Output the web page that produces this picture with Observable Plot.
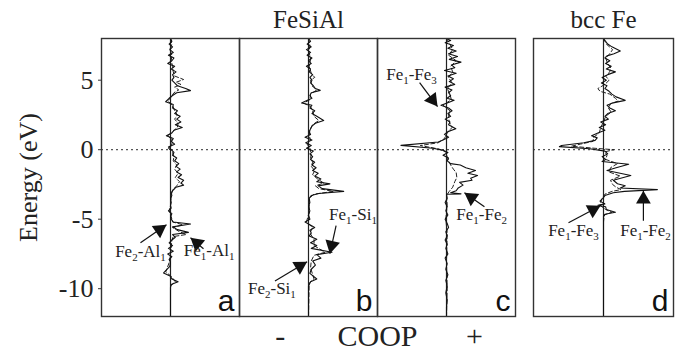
<!DOCTYPE html>
<html><head><meta charset="utf-8">
<script src="https://cdn.jsdelivr.net/npm/d3@7"></script>
<script src="https://cdn.jsdelivr.net/npm/@observablehq/plot@0.6"></script>
<style>
html,body{margin:0;padding:0;background:#fff;}
#wrap{display:flex;width:681px;height:350px;overflow:hidden;}
#wrap svg text{font-family:'Liberation Serif','Times New Roman',serif;}
#wrap svg text.letter{font-family:'Liberation Sans',Arial,sans-serif;}
</style></head><body><div id="wrap"></div>
<script>
// ---------- data (energy eV, COOP arbitrary units) ----------
const panelsLeft = ["a", "b", "c"];
const yTicks = [5, 0, -5, -10];

const aSolid = [[8.0,0],[7.8,0.2],[7.6,-0.2],[7.4,0.3],[7.2,-0.1],[7.0,0.4],[6.8,-0.3],[6.6,0.5],[6.4,0.2],[6.2,-0.4],[6.0,0.6],[5.8,0.1],[5.6,0.8],[5.4,0.3],[5.2,0.5],[5.0,0.2],[4.8,0.6],[4.6,1.0],[4.4,2.2],[4.25,2.9],[4.1,0.9],[3.9,0.3],[3.7,-0.2],[3.45,-0.7],[3.25,0.4],[3.0,0.3],[2.8,1.0],[2.6,0.6],[2.4,1.4],[2.2,0.9],[2.0,1.5],[1.8,0.7],[1.6,1.7],[1.4,0.5],[1.2,0.2],[1.0,-0.6],[0.8,0.4],[0.6,0.1],[0.4,0.6],[0.2,-0.3],[0.0,0.1],[-0.2,0.5],[-0.4,0.3],[-0.6,0.9],[-0.8,0.6],[-1.0,1.2],[-1.2,0.8],[-1.4,1.4],[-1.6,0.9],[-1.8,1.6],[-2.0,1.1],[-2.2,1.9],[-2.4,1.5],[-2.55,1.9],[-2.7,0.8],[-2.9,0.4],[-3.1,0.1],[-3.3,0.2],[-3.5,0.0],[-3.8,0.1],[-4.0,0.0],[-4.2,0.1],[-4.4,-0.3],[-4.6,0.2],[-4.8,0.0],[-5.0,0.1],[-5.2,0.4],[-5.35,2.9],[-5.55,0.3],[-5.75,1.0],[-5.95,2.6],[-6.1,0.3],[-6.3,0.7],[-6.5,0.2],[-6.7,-0.2],[-6.9,0.3],[-7.1,-0.3],[-7.3,0.4],[-7.5,-0.4],[-7.7,0.2],[-7.9,-0.2],[-8.1,0.0],[-8.4,-0.1],[-8.87,-1.0],[-9.1,0.0],[-9.3,0.2],[-9.5,1.1],[-9.7,0.1],[-9.9,0.0],[-10.5,0.0],[-12,0]];
const aDash = [[8.0,0],[7.6,0.2],[7.2,-0.1],[6.8,0.2],[6.4,0.1],[6.0,0.3],[5.6,0.4],[5.3,0.6],[5.05,1.9],[4.85,0.8],[4.7,1.5],[4.5,0.6],[4.3,1.2],[4.1,0.5],[3.8,0.1],[3.5,-0.4],[3.2,0.3],[2.8,0.6],[2.5,1.0],[2.2,0.6],[1.9,1.1],[1.6,1.0],[1.3,0.3],[1.0,-0.4],[0.7,0.3],[0.4,0.2],[0.1,-0.3],[-0.2,0.3],[-0.5,0.5],[-0.8,0.4],[-1.1,0.9],[-1.4,0.6],[-1.7,1.1],[-2.0,0.7],[-2.3,1.3],[-2.6,0.9],[-2.9,0.3],[-3.3,0.1],[-4.0,0.0],[-4.4,-0.2],[-4.8,0.1],[-5.2,0.3],[-5.4,1.8],[-5.6,0.3],[-5.9,1.3],[-6.1,2.3],[-6.25,0.4],[-6.5,0.2],[-7.0,0.1],[-7.5,0.0],[-8.0,-0.1],[-8.8,-0.7],[-9.1,0.1],[-9.5,0.7],[-9.8,0.0],[-12,0]];

const bSolid = [[8.0,0],[7.8,0.3],[7.6,-0.2],[7.4,0.4],[7.2,-0.3],[7.0,0.3],[6.8,-0.2],[6.6,0.5],[6.4,0.0],[6.2,0.4],[6.0,-0.3],[5.8,0.3],[5.6,0.1],[5.4,0.6],[5.2,0.2],[5.0,0.5],[4.8,0.3],[4.6,0.7],[4.4,1.0],[4.27,1.7],[4.1,0.4],[3.9,0.2],[3.7,0.5],[3.5,-0.4],[3.36,-1.0],[3.2,0.5],[3.0,0.2],[2.8,0.9],[2.6,0.5],[2.4,1.2],[2.1,2.2],[1.9,1.0],[1.7,0.5],[1.5,0.3],[1.3,0.1],[1.1,0.3],[0.9,-0.5],[0.7,0.5],[0.5,-0.4],[0.3,0.4],[0.1,-0.3],[-0.1,0.7],[-0.3,0.2],[-0.5,0.6],[-0.7,0.3],[-0.9,0.9],[-1.1,0.5],[-1.3,1.1],[-1.5,0.6],[-1.7,1.4],[-1.9,0.9],[-2.1,1.8],[-2.3,1.2],[-2.46,3.1],[-2.6,1.4],[-2.8,2.0],[-3.0,5.1],[-3.15,1.5],[-3.3,0.4],[-3.5,0.1],[-3.8,0.2],[-4.1,0.0],[-4.4,0.2],[-4.7,0.0],[-5.0,0.2],[-5.2,-0.5],[-5.4,0.2],[-5.6,0.9],[-5.8,0.2],[-6.0,0.4],[-6.2,0.1],[-6.45,1.2],[-6.7,0.3],[-6.9,1.2],[-7.1,0.4],[-7.38,3.4],[-7.55,1.2],[-7.8,1.8],[-8.0,0.6],[-8.3,1.0],[-8.6,0.4],[-8.9,0.2],[-9.3,1.2],[-9.5,0.3],[-9.8,0.0],[-12,0]];
const bDash = [[8.0,0],[7.5,0.2],[7.0,0.1],[6.5,0.3],[6.0,0.1],[5.5,0.4],[5.2,0.9],[5.0,0.3],[4.6,0.5],[4.3,1.2],[4.0,0.3],[3.6,0.2],[3.35,-0.7],[3.1,0.3],[2.8,0.6],[2.4,0.8],[2.1,1.5],[1.8,0.6],[1.4,0.2],[1.0,0.1],[0.7,0.3],[0.4,-0.2],[0.1,0.2],[-0.3,0.4],[-0.6,0.3],[-0.9,0.6],[-1.2,0.4],[-1.5,0.9],[-1.8,0.6],[-2.1,1.3],[-2.4,2.2],[-2.6,1.0],[-2.8,1.5],[-3.0,3.6],[-3.2,0.8],[-3.5,0.1],[-4.5,0.1],[-5.2,-0.3],[-5.6,0.6],[-6.0,0.2],[-6.45,0.8],[-6.9,0.8],[-7.38,2.4],[-7.6,0.8],[-8.0,0.4],[-8.5,0.3],[-9.3,0.8],[-9.6,0.1],[-12,0]];

const cSolid = [[8.0,0],[7.85,0.6],[7.7,-0.2],[7.5,1.0],[7.3,0.2],[7.1,1.4],[6.9,0.3],[6.7,1.6],[6.5,0.4],[6.3,2.1],[6.1,0.7],[5.9,1.2],[5.7,-0.3],[5.5,1.4],[5.3,0.2],[5.1,1.0],[4.9,0.4],[4.7,1.2],[4.5,-0.2],[4.3,0.8],[4.1,0.3],[3.9,0.6],[3.7,0.1],[3.55,1.1],[3.4,0.3],[3.2,-0.8],[3.0,0.3],[2.8,0.8],[2.6,0.2],[2.4,0.6],[2.2,-0.2],[2.0,0.5],[1.8,0.3],[1.5,1.35],[1.3,0.2],[1.1,-0.3],[0.9,0.3],[0.7,-0.5],[0.55,-1.2],[0.31,-6.6],[0.1,-2.0],[-0.05,-0.4],[-0.2,0.2],[-0.4,-0.5],[-0.6,0.3],[-0.8,0.1],[-1.0,0.6],[-1.1,2.0],[-1.3,2.8],[-1.5,4.2],[-1.7,3.1],[-1.86,4.5],[-2.05,3.5],[-2.2,3.7],[-2.35,1.9],[-2.55,2.4],[-2.75,1.7],[-2.95,1.4],[-3.1,0.6],[-3.18,2.1],[-3.2,0.0],[-3.5,0.1],[-3.8,-0.2],[-4.1,0.1],[-4.4,-0.1],[-4.7,0.2],[-5.0,-0.2],[-5.3,0.1],[-5.6,0.3],[-5.9,-0.1],[-6.2,0.1],[-6.5,-0.2],[-6.8,0.1],[-7.1,-0.1],[-7.5,0.2],[-7.8,-0.2],[-8.2,0.1],[-8.6,-0.1],[-9.0,0.2],[-9.4,-0.1],[-9.8,0.1],[-10.3,-0.1],[-10.8,0.1],[-11.3,0.0],[-12,0]];
const cDash = [[8.0,0],[7.6,0.5],[7.2,0.9],[6.8,0.3],[6.4,1.4],[6.0,0.6],[5.6,0.9],[5.2,0.3],[4.8,0.8],[4.4,0.1],[4.0,0.5],[3.6,0.7],[3.2,-0.5],[2.8,0.5],[2.4,0.3],[2.0,0.4],[1.6,0.8],[1.2,0.1],[0.8,-0.3],[0.5,-1.2],[0.3,-3.8],[0.05,-1.1],[-0.2,0.0],[-0.5,0.1],[-0.8,0.3],[-1.1,0.6],[-1.4,1.0],[-1.65,1.4],[-2.0,1.5],[-2.3,1.2],[-2.7,0.9],[-3.0,0.4],[-3.3,0.0],[-4.0,0.1],[-5.0,-0.1],[-6.0,0.1],[-8.0,0.0],[-10,0.1],[-12,0]];

const dSolid = [[8.0,0],[7.8,0.3],[7.6,0.6],[7.4,1.2],[7.1,2.4],[6.9,1.5],[6.75,0.5],[6.6,0.2],[6.4,0.9],[6.2,0.3],[6.0,1.1],[5.8,0.4],[5.6,1.7],[5.4,0.6],[5.2,-0.2],[5.0,0.4],[4.8,-0.3],[4.6,0.5],[4.4,0.2],[4.2,0.8],[4.0,1.2],[3.8,1.8],[3.55,3.1],[3.35,1.2],[3.2,0.5],[3.0,0.9],[2.8,1.7],[2.6,0.6],[2.4,0.2],[2.2,0.7],[2.0,-0.4],[1.8,0.3],[1.6,-0.6],[1.4,0.2],[1.2,-0.8],[1.0,-1.7],[0.85,-0.9],[0.67,-1.2],[0.5,-2.8],[0.3,-6.0],[0.22,-6.3],[0.07,-2.0],[-0.1,0.2],[-0.3,0.6],[-0.5,-0.2],[-0.7,0.3],[-0.85,-0.2],[-1.05,3.6],[-1.3,1.8],[-1.5,0.5],[-1.86,3.9],[-2.2,1.4],[-2.45,2.0],[-2.6,3.1],[-2.75,2.4],[-2.87,7.7],[-3.0,3.0],[-3.1,1.4],[-3.3,0.2],[-3.5,-0.1],[-3.7,-0.5],[-3.9,0.2],[-4.0,-0.8],[-4.1,0.3],[-4.3,0.4],[-4.5,1.7],[-4.65,0.2],[-4.8,0.0],[-5.2,0.0],[-12,0]];
const dDash = [[8.0,0],[7.6,0.4],[7.2,1.3],[6.9,0.9],[6.6,0.3],[6.2,0.6],[5.9,1.0],[5.6,0.9],[5.3,0.3],[5.0,0.8],[4.7,0.2],[4.4,-0.8],[4.2,-0.5],[4.0,0.9],[3.7,1.7],[3.5,2.1],[3.3,1.0],[3.0,0.7],[2.7,1.1],[2.4,0.3],[2.0,0.0],[1.6,-0.4],[1.2,-0.6],[0.9,-1.4],[0.6,-1.5],[0.4,-3.3],[0.25,-4.6],[0.1,-1.2],[0.0,1.5],[-0.15,0.2],[-0.4,0.5],[-0.7,0.3],[-1.0,2.0],[-1.3,1.0],[-1.6,0.8],[-1.9,2.4],[-2.2,1.0],[-2.5,1.3],[-2.7,1.8],[-2.87,2.5],[-3.0,1.2],[-3.2,0.2],[-3.6,-0.3],[-4.0,-0.5],[-4.3,0.3],[-4.5,1.2],[-4.7,0.1],[-5.2,0.0],[-12,0]];

const titles = [{panel: "b", text: "FeSiAl"}, {panel: "d", text: "bcc Fe"}];
const letters = [{panel: "a", text: "a"}, {panel: "b", text: "b"}, {panel: "c", text: "c"}, {panel: "d", text: "d"}];
const axisWords = [{panel: "b", text: "-", v: -4.1}, {panel: "b", text: "COOP", v: 10}, {panel: "c", text: "+", v: 4.06}];
const annotations = [
  {panel: "a", label: "Fe2-Al1", textV: -4.35, textE: -7.34, tailV: -4.35, tailE: -6.69, tipV: -0.58, tipE: -5.40},
  {panel: "a", label: "Fe1-Al1", textV: 5.6, textE: -7.27, tailV: 4.78, tailE: -7.12, tipV: 2.9, tipE: -6.33},
  {panel: "b", label: "Fe1-Si1", textV: 6.45, textE: -4.69, tailV: 4.0, tailE: -5.47, tipV: 3.1, tipE: -7.48},
  {panel: "b", label: "Fe2-Si1", textV: -5.3, textE: -10.0, tailV: -4.86, tailE: -9.44, tipV: -0.2, tipE: -8.06},
  {panel: "c", label: "Fe1-Fe3", textV: -5.07, textE: 5.41, tailV: -3.9, tailE: 4.83, tipV: -1.3, tipE: 3.1},
  {panel: "c", label: "Fe1-Fe2", textV: 5.1, textE: -4.69, tailV: 5.5, tailE: -4.11, tipV: 2.6, tipE: -3.1},
  {panel: "d", label: "Fe1-Fe3", textV: -4.29, textE: -5.84, tailV: -5.0, tailE: -5.25, tipV: -0.43, tipE: -4.03},
  {panel: "d", label: "Fe1-Fe2", textV: 6.0, textE: -5.84, tailV: 5.7, tailE: -5.11, tipV: 5.7, tipE: -2.95}
];

// ---------- build tables ----------
const toRows = (panel, pairs) => pairs.map(([energy, coop]) => ({panel, energy, coop}));
const solidRows = [...toRows("a", aSolid), ...toRows("b", bSolid), ...toRows("c", cSolid), ...toRows("d", dSolid)];
const dashRows = [...toRows("a", aDash), ...toRows("b", bDash), ...toRows("c", cDash), ...toRows("d", dDash)];

const SERIF = "'Liberation Serif', 'Times New Roman', serif";
const SANS = "'Liberation Sans', Arial, sans-serif";
const H = 350, MT = 38, MB = 34;
const xDomain = [-10, 10], yDomain = [-12, 8];
const headR = 5.5;
const apexOff = 2 * Math.sqrt(Math.PI * headR * headR / (3 * Math.sqrt(3)));

function heads(anns, kx, ky) {
  return anns.map(a => {
    const dxp = (a.tipV - a.tailV) * kx, dyp = -(a.tipE - a.tailE) * ky;
    const len = Math.hypot(dxp, dyp), ux = dxp / len, uy = dyp / len;
    return {
      panel: a.panel,
      rotate: Math.atan2(ux, -uy) * 180 / Math.PI,
      v: a.tipV - apexOff * ux / kx,
      e: a.tipE + apexOff * uy / ky
    };
  });
}
const dashRowsFor = ps => dashRows.filter(d => ps.includes(d.panel));
const solidRowsFor = ps => solidRows.filter(d => ps.includes(d.panel));

function commonMarks(anns, kx, ky) {
  return [
    Plot.ruleY([0], {stroke: "#555", strokeWidth: 1.2, strokeDasharray: "2,3"}),
    Plot.ruleX([0], {stroke: "#222", strokeWidth: 1.2}),
    Plot.line(dashRowsFor(anns.panels), {fx: "panel", x: "coop", y: "energy", stroke: "#222", strokeWidth: 1, strokeDasharray: "4,2.5"}),
    Plot.line(solidRowsFor(anns.panels), {fx: "panel", x: "coop", y: "energy", stroke: "#111", strokeWidth: 1.1}),
    Plot.frame({stroke: "#333", strokeWidth: 1.4}),
    Plot.link(anns.list, {fx: "panel", x1: "tailV", y1: "tailE", x2: "tipV", y2: "tipE", stroke: "#111", strokeWidth: 1.2}),
    Plot.dot(heads(anns.list, kx, ky), {fx: "panel", x: "v", y: "e", symbol: "triangle", r: headR, fill: "#111", stroke: "none", rotate: "rotate"}),
    Plot.text(anns.list, {fx: "panel", x: "textV", y: "textE", text: "label", fontSize: 17, fontFamily: SERIF, fill: "#222"}),
    Plot.text(titles.filter(d => anns.panels.includes(d.panel)), {fx: "panel", text: "text", frameAnchor: "top", lineAnchor: "bottom", dy: -11, fontSize: 25, fontFamily: SERIF, fill: "#222"}),
    Plot.text(letters.filter(d => anns.panels.includes(d.panel)), {fx: "panel", text: "text", frameAnchor: "bottom-right", lineAnchor: "bottom", dx: -5, dy: -6, fontSize: 30, fontFamily: SANS, fill: "#111"})
  ];
}

// ---------- left chart (a, b, c) ----------
const W1 = 517, ML1 = 101, MR1 = 2;
const kx1 = (W1 - ML1 - MR1) / panelsLeft.length / (xDomain[1] - xDomain[0]);
const ky = (H - MT - MB) / (yDomain[1] - yDomain[0]);
const leftAnns = {panels: panelsLeft, list: annotations.filter(d => panelsLeft.includes(d.panel))};

const chart1 = Plot.plot({
  width: W1, height: H, marginLeft: ML1, marginRight: MR1, marginTop: MT, marginBottom: MB,
  style: {fontFamily: SERIF, background: "#fff", color: "#222", overflow: "visible"},
  fx: {domain: panelsLeft, padding: 0, axis: null, label: null},
  x: {domain: xDomain, axis: null},
  y: {domain: yDomain},
  marks: [
    ...commonMarks(leftAnns, kx1, ky),
    Plot.axisY(yTicks, {tickSize: 3, tickPadding: 5, fontSize: 26, fontFamily: SERIF, tickFormat: d => String(d),
      label: "Energy (eV)", labelAnchor: "center", labelOffset: 83, labelArrow: "none", stroke: "#333"}),
    Plot.text(axisWords, {fx: "panel", x: "v", text: "text", frameAnchor: "bottom", lineAnchor: "bottom", dy: 29, fontSize: 30, fontFamily: SERIF, fill: "#222"})
  ]
});

// ---------- right chart (d) ----------
const W2 = 164, ML2 = 16, MR2 = 8;
const kx2 = (W2 - ML2 - MR2) / (xDomain[1] - xDomain[0]);
const rightAnns = {panels: ["d"], list: annotations.filter(d => d.panel === "d")};
const chart2 = Plot.plot({
  width: W2, height: H, marginLeft: ML2, marginRight: MR2, marginTop: MT, marginBottom: MB,
  style: {fontFamily: SERIF, background: "#fff", color: "#222", overflow: "visible"},
  fx: {domain: ["d"], padding: 0, axis: null, label: null},
  x: {domain: xDomain, axis: null},
  y: {domain: yDomain, axis: null},
  marks: commonMarks(rightAnns, kx2, ky)
});

// subscripts for bond labels (e.g. Fe2-Al1 -> Fe₂-Al₁), letters in sans
function postProcess(svg) {
  d3.select(svg).selectAll("text").each(function() {
    const s = this.textContent;
    if (/^[a-d]$/.test(s)) { this.classList.add("letter"); return; }
    const m = /^([A-Za-z]+)(\d)(-[A-Za-z]+)(\d)$/.exec(s);
    if (!m || this.querySelector("tspan")) return;
    const t = d3.select(this);
    t.text(null);
    t.append("tspan").text(m[1]);
    t.append("tspan").attr("dy", 4).attr("font-size", 11).text(m[2]);
    t.append("tspan").attr("dy", -4).text(m[3]);
    t.append("tspan").attr("dy", 4).attr("font-size", 11).text(m[4]);
  });
}
postProcess(chart1); postProcess(chart2);

const wrap = document.getElementById("wrap");
wrap.appendChild(chart1);
wrap.appendChild(chart2);
</script></body></html>
